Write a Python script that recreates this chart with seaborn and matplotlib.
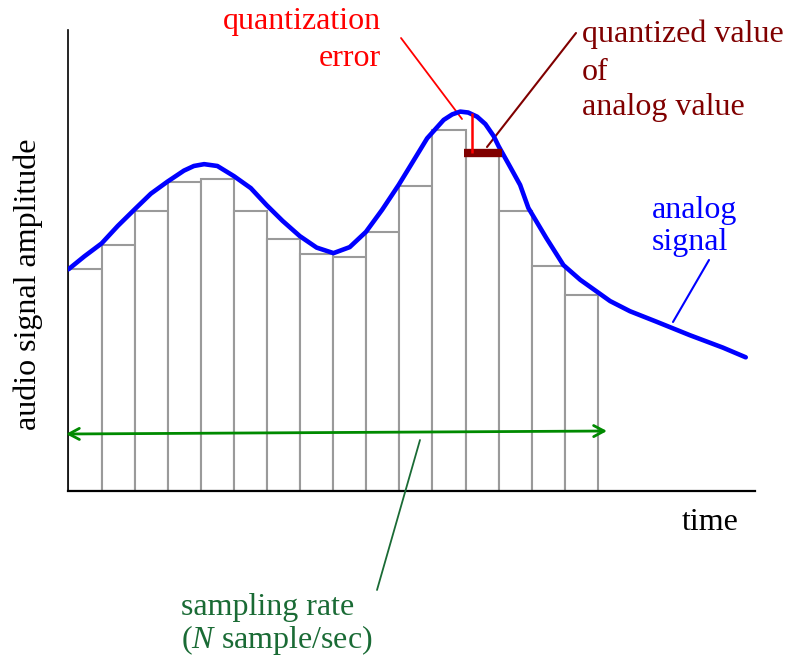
import numpy as np
import pandas as pd
import matplotlib
matplotlib.use("Agg")
import matplotlib.pyplot as plt
import seaborn as sns

# quantized samples (one per sampling interval), amplitude in % of axis height
sample_index = list(range(16))
sample_levels = [48.1, 53.4, 60.7, 67.0, 67.6, 60.7, 54.7, 51.5,
                 50.8, 56.1, 66.2, 78.2, 73.3, 60.7, 48.7, 42.5]

# analog signal (time in sample intervals)
signal_t = [0.0, 0.48, 1.0, 1.49, 2.0, 2.49, 2.99, 3.49, 3.79, 4.10,
            4.50, 5.00, 5.51, 5.99, 6.47, 6.99, 7.50, 8.01, 8.50, 8.99,
            9.48, 9.98, 10.33, 10.84, 11.34, 11.60, 11.84, 12.08, 12.35, 12.60,
            12.85, 13.00, 13.35, 13.65, 13.90, 14.44, 14.96, 15.47, 15.98, 16.37,
            16.97, 17.78, 18.78, 19.78, 20.47]
signal_amp = [48.1, 50.9, 53.7, 57.5, 61.1, 64.5, 67.1, 69.5, 70.5, 70.9,
              70.5, 68.3, 65.7, 62.0, 58.6, 55.3, 52.8, 51.6, 52.9, 56.2,
              61.0, 66.4, 70.5, 76.5, 80.5, 81.7, 82.3, 82.1, 81.2, 79.6,
              77.0, 74.8, 70.3, 66.4, 61.4, 54.9, 49.0, 45.8, 43.2, 41.2,
              39.0, 36.7, 33.8, 31.1, 29.0]

# the one sample highlighted as quantization example
highlight = 12
error_t = 12.2
error_top = 82.0

W, H = 799, 657


def fpos(x, y):
    # pixel position (from top-left) -> figure fraction
    return x / W, 1 - y / H


sns.set_style("white")
plt.rcParams["font.family"] = ["Liberation Serif", "DejaVu Serif"]
plt.rcParams["mathtext.fontset"] = "custom"
plt.rcParams["mathtext.it"] = "Liberation Serif:italic"
plt.rcParams["mathtext.rm"] = "Liberation Serif"

fig = plt.figure(figsize=(W / 100, H / 100), dpi=100)
x0, y0 = fpos(68, 491)
x1, y1 = fpos(755, 30)
ax = fig.add_axes([x0, y0, x1 - x0, y1 - y0])

bars = pd.DataFrame({"t": [i + 0.5 for i in sample_index], "level": sample_levels})
sns.barplot(data=bars, x="t", y="level", native_scale=True, width=1,
            color="white", saturation=1, edgecolor="#9a9a9a", linewidth=1.5,
            errorbar=None, ax=ax)

sig = pd.DataFrame({"t": signal_t, "amp": signal_amp})
sns.lineplot(data=sig, x="t", y="amp", color="#0000ff", linewidth=3.3,
             sort=False, ax=ax, zorder=4, solid_joinstyle="round",
             solid_capstyle="round")

# quantized value of the highlighted sample and its error
ax.hlines(sample_levels[highlight], highlight - 0.05, highlight + 1.1,
          color="#800000", linewidth=6, zorder=5)
ax.vlines(error_t, sample_levels[highlight], error_top, color="#ff0000",
          linewidth=1.8, zorder=6)

ax.set_xlim(-0.015, 20.75)
ax.set_ylim(0, 100)
ax.set_xticks([])
ax.set_yticks([])
ax.set_xlabel("")
ax.set_ylabel("")
for side in ["top", "right"]:
    ax.spines[side].set_visible(False)
ax.spines["left"].set_color("black")
ax.spines["left"].set_linewidth(1.2)
ax.spines["bottom"].set_color("black")
ax.spines["bottom"].set_linewidth(1.6)

# sampling rate arrow
ax.annotate("", xy=fpos(607, 431), xytext=fpos(66, 434),
            xycoords="figure fraction", textcoords="figure fraction",
            arrowprops=dict(arrowstyle="<->,head_length=0.75,head_width=0.4",
                            color="#008a00", lw=2, shrinkA=0, shrinkB=0))


def pointer(p, q, color, lw):
    ax.annotate("", xy=fpos(*q), xytext=fpos(*p),
                xycoords="figure fraction", textcoords="figure fraction",
                arrowprops=dict(arrowstyle="-", color=color, lw=lw,
                                shrinkA=0, shrinkB=0))


pointer((401, 38), (462, 119), "#ff0000", 1.3)
pointer((576, 33), (487, 147), "#800000", 1.5)
pointer((709, 260), (673, 322), "#0000ff", 1.5)
pointer((420, 440), (377, 590), "#1a6b35", 1.3)

fs = 23
fig.text(*fpos(381, 22), "quantization", color="#ff0000", fontsize=fs,
         ha="right", va="center")
fig.text(*fpos(381, 58), "error", color="#ff0000", fontsize=fs,
         ha="right", va="center")
fig.text(*fpos(582, 34), "quantized value", color="#800000", fontsize=fs,
         ha="left", va="center")
fig.text(*fpos(582, 72), "of", color="#800000", fontsize=fs,
         ha="left", va="center")
fig.text(*fpos(582, 108), "analog value", color="#800000", fontsize=fs,
         ha="left", va="center")
fig.text(*fpos(652, 211), "analog", color="#0000ff", fontsize=fs,
         ha="left", va="center")
fig.text(*fpos(652, 243), "signal", color="#0000ff", fontsize=fs,
         ha="left", va="center")
fig.text(*fpos(181, 607), "sampling rate", color="#1a6b35", fontsize=fs,
         ha="left", va="center")
fig.text(*fpos(181, 640), "($N$ sample/sec)", color="#1a6b35", fontsize=fs,
         ha="left", va="center")
fig.text(*fpos(710, 522), "time", color="black", fontsize=fs,
         ha="center", va="center")
fig.text(*fpos(28, 284), "audio signal amplitude", color="black", fontsize=fs,
         ha="center", va="center", rotation=90)

fig.savefig("out.png", dpi=100)
